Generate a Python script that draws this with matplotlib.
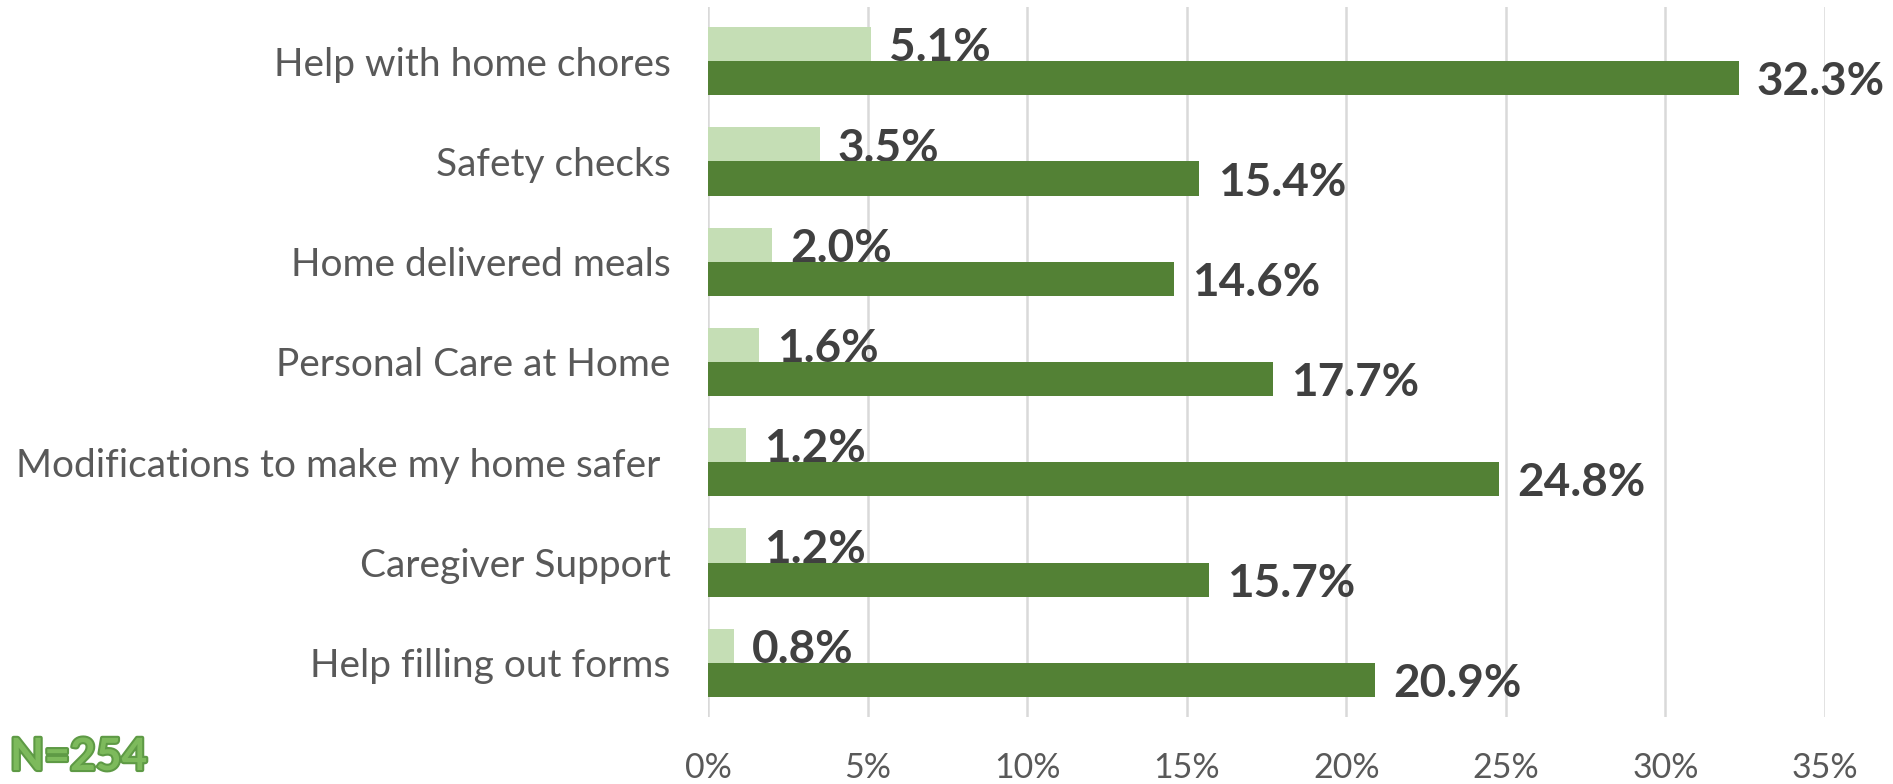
import matplotlib
matplotlib.use("Agg")
import matplotlib.pyplot as plt
import matplotlib.patheffects as pe

categories = ["Help with home chores", "Safety checks", "Home delivered meals",
              "Personal Care at Home", "Modifications to make my home safer ",
              "Caregiver Support", "Help filling out forms"]
light_values = [5.1, 3.5, 2.0, 1.6, 1.2, 1.2, 0.8]
dark_values = [32.3, 15.4, 14.6, 17.7, 24.8, 15.7, 20.9]
x_ticks = [0, 5, 10, 15, 20, 25, 30, 35]
x_tick_labels = ["0%", "5%", "10%", "15%", "20%", "25%", "30%", "35%"]
note = "N=254"

LIGHT = "#c5deb5"
DARK = "#538135"
GREY = "#595959"
LABEL = "#404040"
H = 0.34

plt.rcParams['font.family'] = ['Lato', 'DejaVu Sans']

W, Hpx = 1893, 784
fig = plt.figure(figsize=(W / 100, Hpx / 100), dpi=100)
ax = fig.add_axes([708 / W, 1 - 717 / Hpx, (1825 - 708) / W, 710 / Hpx])

ys = list(range(len(categories)))
ax.barh([y - H for y in ys], light_values, height=H, align='edge', color=LIGHT, zorder=2)
ax.barh(ys, dark_values, height=H, align='edge', color=DARK, zorder=4)

for y, v in zip(ys, light_values):
    ax.annotate(f"{v:.1f}%", (v, y - H / 2), xytext=(13, -3), textcoords='offset points',
                ha='left', va='center', fontsize=33, fontweight='bold', color=LABEL, zorder=3)
for y, v in zip(ys, dark_values):
    ax.annotate(f"{v:.1f}%", (v, y + H / 2), xytext=(13, -3), textcoords='offset points',
                ha='left', va='center', fontsize=33, fontweight='bold', color=LABEL, zorder=5)

ax.set_xlim(0, 35)
ax.set_ylim(6.54, -0.54)
ax.set_xticks(x_ticks)
ax.set_xticklabels(x_tick_labels, fontsize=24.5, color=GREY)
ax.set_yticks(ys)
ax.set_yticklabels(categories, fontsize=28, color=GREY)
ax.tick_params(axis='both', length=0)
ax.tick_params(axis='x', pad=25)
ax.tick_params(axis='y', pad=27)
ax.grid(axis='x', color="#d9d9d9", linewidth=1.8, zorder=0)
ax.set_axisbelow(True)
for s in ax.spines.values():
    s.set_visible(False)

fig.text(10 / W, 1 - 757 / Hpx, note, fontsize=32, fontweight='bold', color="#7dba5c",
         ha='left', va='center',
         path_effects=[pe.withStroke(linewidth=3, foreground="#5e9a45")])

fig.savefig("out.png", dpi=100)
